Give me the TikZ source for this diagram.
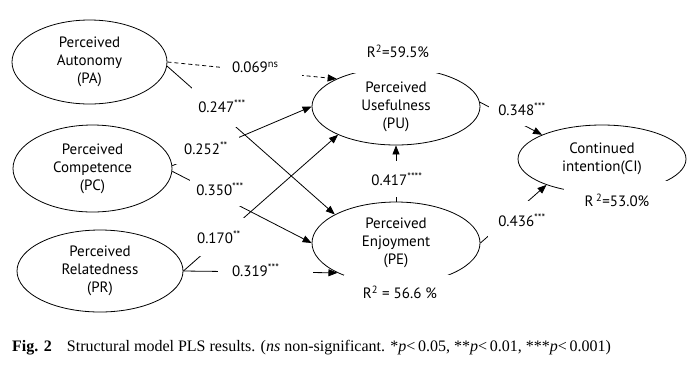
\documentclass[tikz,border=0pt]{standalone}
\usepackage{fontspec}
\setmainfont{PT Sans}
\newfontfamily\capfont{Liberation Serif}
\usetikzlibrary{shapes.geometric,arrows.meta}
\begin{document}
\begin{tikzpicture}[x=1pt,y=-1pt,
  lv/.style={ellipse, draw, line width=0.8pt, inner sep=0pt, align=center, font=\fontsize{15}{18}\selectfont},
  arr/.style={line width=0.8pt, -{Triangle[length=9pt,width=7pt]}},
  coef/.style={fill=white, inner sep=6pt, font=\fontsize{15}{18}\selectfont},
  rsq/.style={fill=white, inner sep=0pt, font=\fontsize{15}{18}\selectfont}]
\useasboundingbox (0,0) rectangle (692,368);
% latent variables
\node[lv, minimum width=155pt, minimum height=84pt] (PA) at (89.5,62) {Perceived\\Autonomy\\(PA)};
\node[lv, minimum width=159pt, minimum height=87pt] (PC) at (92.5,168.5) {Perceived\\Competence\\(PC)};
\node[lv, minimum width=166pt, minimum height=82pt] (PR) at (100,271) {Perceived\\Relatedness\\(PR)};
\node[lv, minimum width=168pt, minimum height=77pt] (PU) at (396,106.5) {Perceived\\Usefulness\\(PU)};
\node[lv, minimum width=168pt, minimum height=82pt] (PE) at (396,243) {Perceived\\Enjoyment\\(PE)};
\node[lv, minimum width=168pt, minimum height=68pt] (CI) at (602,159) {Continued\\intention(CI)};
% paths
\draw[arr, dashed, dash pattern=on 4pt off 3pt] (PA.east) -- (PU.155);
\draw[arr] (PA.-3) -- (PE.155);
\draw[arr] (PC.2) -- (PU.west);
\draw[arr] (PC.-2) -- (PE.west);
\draw[arr] (PR.east) -- (PU.206);
\draw[arr] (PR.east) -- (PE.207);
\draw[arr] (PE.north) -- (PU.south);
\draw[arr] (PU.3) -- (CI.158);
\draw[arr] (PE.east) -- (CI.205);
% coefficients
\node[coef, inner xsep=12pt, text width=58pt, align=left] (c1) at (261,67) {0.069\textsuperscript{ns}};
\node[coef, minimum width=56pt, minimum height=42pt] (c2) at (222,106) {0.247\textsuperscript{***}};
\node[coef, minimum width=66pt, minimum height=31pt] (c3) at (206,148) {0.252\textsuperscript{**}};
\node[coef, minimum width=60pt, minimum height=34pt] (c4) at (220,189) {0.350\textsuperscript{***}};
\node[coef, minimum width=60pt, minimum height=38pt] (c5) at (219,237) {0.170\textsuperscript{**}};
\node[coef, inner xsep=14pt, text width=67pt, align=left] (c6) at (265.5,270) {0.319\textsuperscript{***}};
\node[coef, minimum height=36pt] (c7) at (397,179) {0.417\textsuperscript{****}};
\node[coef, minimum width=66pt, minimum height=34pt] (c8) at (522,109) {0.348\textsuperscript{***}};
\node[coef, minimum width=68pt, minimum height=38pt] (c9) at (522,220) {0.436\textsuperscript{***}};
% R squared
\node[rsq, minimum width=92pt, minimum height=44pt] (r1) at (398,51) {R\textsuperscript{2}=59.5\%};
\node[rsq, minimum width=112pt, minimum height=34pt] (r2) at (400,292) {R\textsuperscript{2} = 56.6 \%};
\node[rsq, minimum width=106pt, minimum height=38pt] (r3) at (617,200) {R\,\textsuperscript{2}=53.0\%};
% caption
\node[anchor=base west, inner sep=0pt, font=\capfont\fontsize{16}{18}\selectfont] (cap) at (12,351)
  {\textbf{Fig. 2}\hspace{0.95em}Structural model PLS results. (\textit{ns} non-significant. *\textit{p}<\,0.05, **\textit{p}<\,0.01, ***\textit{p}<\,0.001)};
\end{tikzpicture}
\end{document}
